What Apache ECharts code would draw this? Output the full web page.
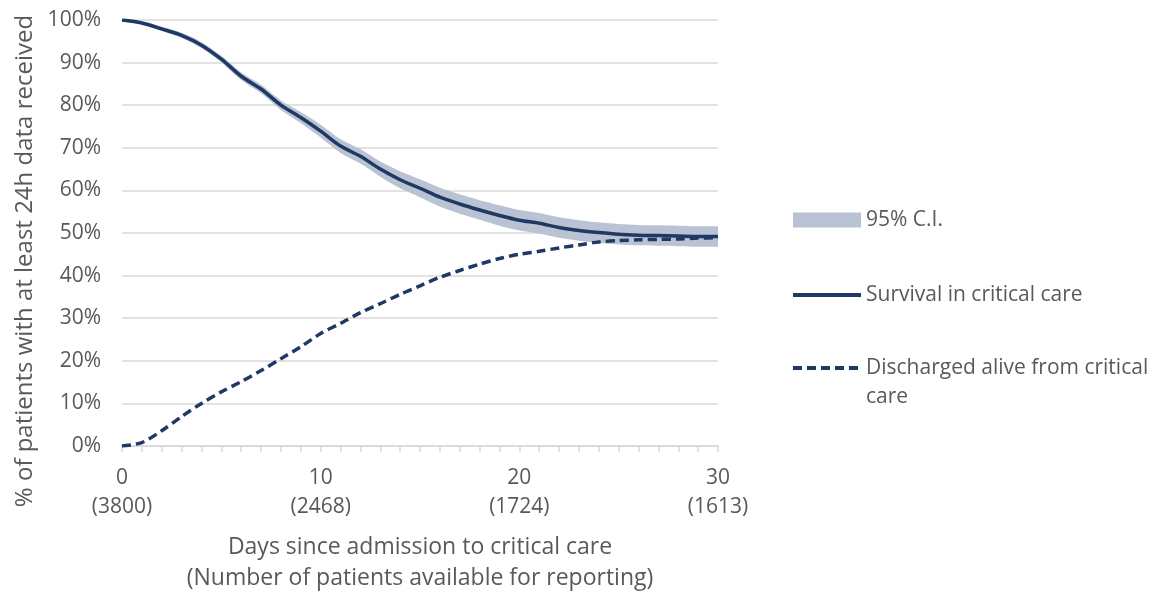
<!DOCTYPE html>
<html><head><meta charset="utf-8">
<script src="https://cdn.jsdelivr.net/npm/echarts@6/dist/echarts.min.js"></script>
<style>html,body{margin:0;padding:0;background:#fff}#c{width:1157px;height:592px}</style>
</head><body><div id="c"></div>
<script>
var days = [0,1,2,3,4,5,6,7,8,9,10,11,12,13,14,15,16,17,18,19,20,21,22,23,24,25,26,27,28,29,30];
var survival = [100,99.3,97.9,96.4,94.1,90.8,86.8,83.8,80.0,77.1,73.9,70.4,68.0,65.0,62.5,60.5,58.4,56.8,55.4,54.1,53.0,52.3,51.3,50.6,50.1,49.7,49.5,49.4,49.3,49.2,49.2];
var ciLower = [99.7,98.9,97.4,95.8,93.4,90.0,85.9,82.8,78.9,75.8,72.4,68.8,66.3,63.2,60.5,58.4,56.2,54.5,53.1,51.7,50.6,49.9,48.9,48.2,47.7,47.3,47.1,47.0,46.9,46.8,46.8];
var ciUpper = [100,99.7,98.4,97.0,94.8,91.6,87.7,84.8,81.1,78.4,75.4,72.0,69.7,66.8,64.5,62.6,60.6,59.1,57.7,56.5,55.4,54.7,53.7,53.0,52.5,52.1,51.9,51.8,51.7,51.6,51.6];
var discharged = [0,0.8,3.6,6.9,10.0,12.7,15.1,17.7,20.5,23.3,26.4,28.8,31.3,33.4,35.6,37.6,39.6,41.2,42.7,44.0,45.0,45.7,46.5,47.2,47.9,48.2,48.4,48.5,48.6,48.8,48.9];
var tickDays = [0,10,20,30];
var tickCounts = [3800,2468,1724,1613];

var FONT = "Open Sans";
var TXT = '#595959';
var NAVY = '#203864';
var BAND = '#b9c3d3';
var GRIDC = '#d9d9d9';

var bandDiff = ciUpper.map(function(u,i){ return +(u - ciLower[i]).toFixed(2); });

var chart = echarts.init(document.getElementById('c'));
chart.setOption({
  animation:false,
  textStyle:{fontFamily:FONT,color:TXT},
  grid:{left:122,right:439,top:20,bottom:146,outerBoundsMode:'none',containLabel:false},
  xAxis:{
    type:'category',data:days.map(String),boundaryGap:false,
    axisLine:{lineStyle:{color:GRIDC,width:1.5}},
    axisTick:{show:true,interval:0,length:6,lineStyle:{color:GRIDC,width:1.5}},
    splitLine:{show:false},
    axisLabel:{
      interval:0,color:TXT,fontSize:21,fontFamily:FONT,lineHeight:29,margin:18,
      formatter:function(v){
        var k = tickDays.indexOf(+v);
        return k<0 ? '' : (v + '\n(' + tickCounts[k] + ')');
      }
    },
    name:'Days since admission to critical care\n(Number of patients available for reporting)',
    nameLocation:'middle',nameGap:86,
    nameTextStyle:{color:TXT,fontSize:23,fontFamily:FONT,lineHeight:31}
  },
  yAxis:{
    type:'value',min:0,max:100,interval:10,
    axisLine:{show:false},axisTick:{show:false},
    splitLine:{lineStyle:{color:GRIDC,width:1.5}},
    axisLabel:{color:TXT,fontSize:21,fontFamily:FONT,margin:21,formatter:function(v){return v+'%';}},
    name:'% of patients with at least 24h data received',
    nameLocation:'middle',nameGap:85,nameRotate:90,
    nameTextStyle:{color:TXT,fontSize:24,fontFamily:FONT,padding:[0,56,0,0]}
  },
  legend:[
    {left:793,top:205.5,padding:0,itemWidth:68,itemHeight:15,
     textStyle:{color:TXT,fontSize:21,fontFamily:FONT,lineHeight:29},
     data:[{name:'95% C.I.',icon:'rect',itemStyle:{color:BAND,opacity:1}}]},
    {left:793,top:280.5,padding:0,itemWidth:68,itemHeight:4,
     textStyle:{color:TXT,fontSize:21,fontFamily:FONT,lineHeight:29},
     data:[{name:'Survival in critical care',icon:'path://M0,0H68V4H0Z',itemStyle:{color:NAVY}}]},
    {left:793,top:324.5,padding:0,itemWidth:68,itemHeight:4,
     textStyle:{color:TXT,fontSize:21,fontFamily:FONT,lineHeight:29},
     formatter:function(){return ' \nDischarged alive from critical\ncare';},
     data:[{name:'Discharged alive from critical care',
            icon:'path://M0,0H9V4H0Z M14,0H23V4H14Z M28,0H37V4H28Z M42,0H51V4H42Z M56,0H65V4H56Z M68,0H68V4H68Z',
            itemStyle:{color:NAVY}}]}
  ],
  series:[
    {name:'ciBase',type:'line',stack:'ci',data:ciLower,symbol:'none',smooth:0.3,
     lineStyle:{opacity:0},silent:true},
    {name:'95% C.I.',type:'line',stack:'ci',data:bandDiff,symbol:'none',smooth:0.3,
     lineStyle:{opacity:0},areaStyle:{color:BAND,opacity:1},itemStyle:{color:BAND},silent:true},
    {name:'Survival in critical care',type:'line',data:survival,symbol:'none',smooth:0.3,
     lineStyle:{color:NAVY,width:3.5},itemStyle:{color:NAVY}},
    {name:'Discharged alive from critical care',type:'line',data:discharged,symbol:'none',smooth:0.3,
     lineStyle:{color:NAVY,width:3.5,type:[9,5]},itemStyle:{color:NAVY}}
  ]
});
</script></body></html>
